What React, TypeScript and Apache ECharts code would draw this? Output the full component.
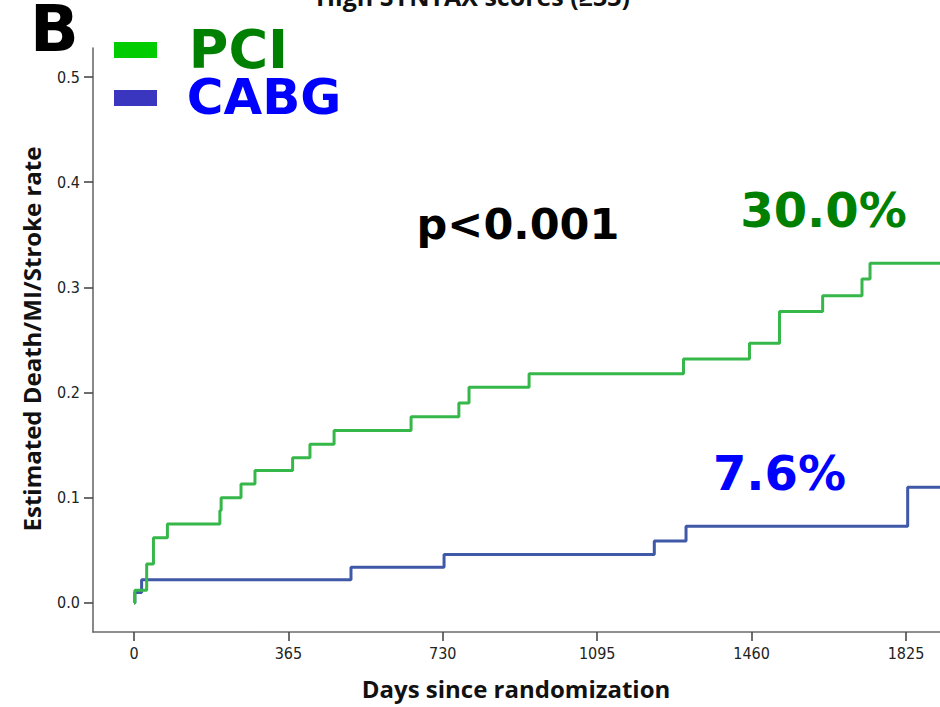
import React, { useEffect, useRef } from "react";
import * as echarts from "echarts";

const pciDays = [0, 2, 30, 46, 79, 203, 206, 253, 286, 375, 416, 473, 655, 768, 792, 934, 1299, 1455, 1526, 1628, 1721, 1740, 1910];
const pciRate = [0, 0.012, 0.037, 0.062, 0.075, 0.088, 0.1, 0.113, 0.126, 0.138, 0.151, 0.164, 0.177, 0.19, 0.205, 0.218, 0.232, 0.247, 0.277, 0.292, 0.308, 0.323, 0.323];
const cabgDays = [0, 2, 18, 513, 733, 1230, 1305, 1829, 1910];
const cabgRate = [0, 0.01, 0.022, 0.034, 0.046, 0.059, 0.073, 0.11, 0.11];
const xTicks = [0, 365, 730, 1095, 1460, 1825];
const yTicks = [0, 0.1, 0.2, 0.3, 0.4, 0.5];

const groups = ["PCI", "CABG"];
const finalLabels = ["30.0%", "7.6%"];
const pText = "p<0.001";
const titleText = "High SYNTAX scores (≥33)";
const panelLabel = "B";
const xTitle = "Days since randomization";
const yTitle = "Estimated Death/MI/Stroke rate";

const GREEN_LINE = "#36b74a";
const BLUE_LINE = "#3f58a8";
const BIG = "'DejaVu Sans', Verdana, sans-serif";
const TICK_FONT = "'Liberation Sans Narrow', 'DejaVu Sans Condensed', 'Liberation Sans', sans-serif";
const TITLE_FONT = "'Open Sans', 'Noto Sans', sans-serif";

export default function App() {
  const ref = useRef<HTMLDivElement>(null);
  useEffect(() => {
    if (!ref.current) return;
    const chart = echarts.init(ref.current, null, { renderer: "svg" });
    const axisLine = { show: true, onZero: false, lineStyle: { color: "#6b6b6b", width: 1.6 } };
    const tick = { show: true, length: 9, lineStyle: { color: "#4a4a4a", width: 1.6 } };
    chart.setOption({
      animation: false,
      backgroundColor: "#ffffff",
      grid: { left: 93, top: 48, right: 0, bottom: 75, containLabel: false },
      xAxis: {
        type: "value",
        min: -96.9,
        max: 1905.4,
        axisLine,
        axisTick: { ...tick, customValues: xTicks },
        axisLabel: {
          customValues: xTicks,
          margin: 13,
          fontSize: 16,
          color: "#222",
          fontFamily: TICK_FONT,
          formatter: (v: number) => String(v),
        },
        splitLine: { show: false },
      },
      yAxis: {
        type: "value",
        min: -0.0276,
        max: 0.5276,
        axisLine,
        axisTick: { ...tick, customValues: yTicks },
        axisLabel: {
          customValues: yTicks,
          margin: 13,
          fontSize: 16,
          color: "#222",
          fontFamily: TICK_FONT,
          formatter: (v: number) => v.toFixed(1),
        },
        splitLine: { show: false },
      },
      series: [
        {
          name: groups[0],
          type: "line",
          step: "end",
          symbol: "none",
          data: pciDays.map((d, i) => [d, pciRate[i]]),
          lineStyle: { color: GREEN_LINE, width: 3 },
          itemStyle: { color: GREEN_LINE },
          z: 3,
        },
        {
          name: groups[1],
          type: "line",
          step: "end",
          symbol: "none",
          data: cabgDays.map((d, i) => [d, cabgRate[i]]),
          lineStyle: { color: BLUE_LINE, width: 3 },
          itemStyle: { color: BLUE_LINE },
          z: 2,
        },
      ],
      graphic: [
        {
          type: "text",
          x: 473,
          y: -4,
          style: { text: titleText, font: `bold 25px ${TITLE_FONT}`, lineHeight: 25, fill: "#111", textAlign: "center", textVerticalAlign: "middle" },
        },
        {
          type: "text",
          x: 54.5,
          y: 29,
          style: { text: panelLabel, font: `bold 64px ${BIG}`, lineHeight: 50, fill: "#000", textAlign: "center", textVerticalAlign: "middle" },
        },
        { type: "rect", shape: { x: 114, y: 42, width: 43, height: 16 }, style: { fill: "#00cc00" } },
        { type: "rect", shape: { x: 114, y: 90, width: 43, height: 16 }, style: { fill: "#3a36bf" } },
        {
          type: "text",
          x: 238.5,
          y: 49,
          style: { text: groups[0], font: `bold 54px ${BIG}`, lineHeight: 44, fill: "#008000", textAlign: "center", textVerticalAlign: "middle" },
        },
        {
          type: "text",
          x: 264,
          y: 97,
          style: { text: groups[1], font: `bold 50px ${BIG}`, lineHeight: 44, fill: "#0000ff", textAlign: "center", textVerticalAlign: "middle" },
        },
        {
          type: "text",
          x: 518,
          y: 224,
          style: { text: pText, font: `bold 43px ${BIG}`, fill: "#000", textAlign: "center", textVerticalAlign: "middle" },
        },
        {
          type: "text",
          x: 823.5,
          y: 210,
          style: { text: finalLabels[0], font: `bold 48px ${BIG}`, fill: "#008000", textAlign: "center", textVerticalAlign: "middle" },
        },
        {
          type: "text",
          x: 779.5,
          y: 473,
          style: { text: finalLabels[1], font: `bold 48px ${BIG}`, fill: "#0000ff", textAlign: "center", textVerticalAlign: "middle" },
        },
        {
          type: "text",
          x: 516,
          y: 688,
          style: { text: xTitle, font: `bold 24px ${TITLE_FONT}`, fill: "#111", textAlign: "center", textVerticalAlign: "middle" },
        },
        {
          type: "text",
          x: 31,
          y: 339,
          rotation: Math.PI / 2,
          style: { text: yTitle, font: `bold 24px ${TITLE_FONT}`, fill: "#111", textAlign: "center", textVerticalAlign: "middle" },
        },
      ],
    });
    return () => chart.dispose();
  }, []);
  return <div ref={ref} style={{ position: "fixed", left: 0, top: 0, width: 940, height: 707 }} />;
}
